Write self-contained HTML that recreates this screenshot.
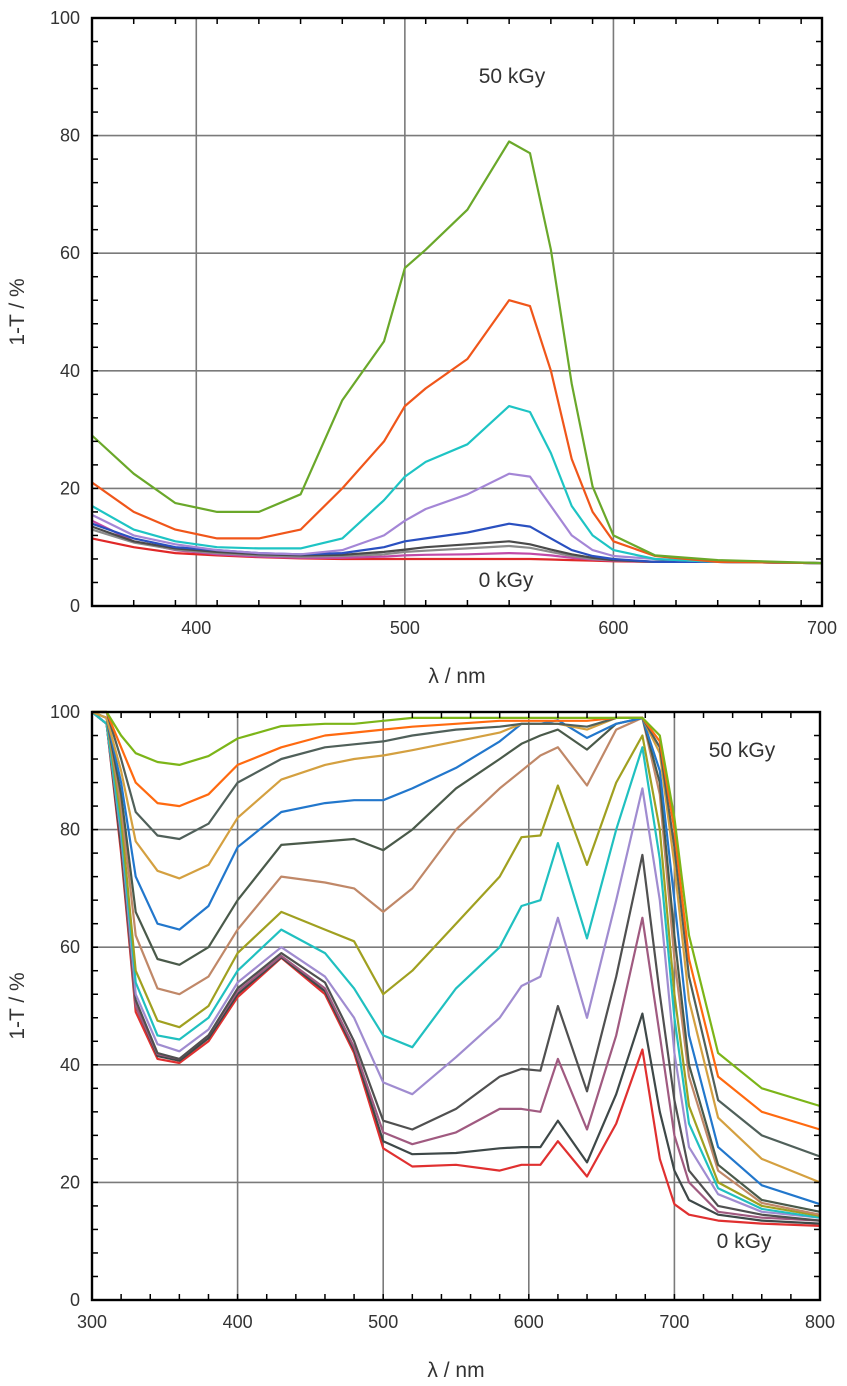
<!DOCTYPE html>
<html><head><meta charset="utf-8"><style>
html,body{margin:0;padding:0;background:#fff;}
svg{display:block;font-family:"Liberation Sans",sans-serif;}
</style></head><body>
<svg id="fig" width="847" height="1386" viewBox="0 0 847 1386" xmlns="http://www.w3.org/2000/svg"></svg>
<script>
// ---------- top chart data ----------
const topX = [350,370,390,410,430,450,470,490,500,510,530,550,560,570,580,590,600,620,650,700];
const topGreen = [29,22.5,17.5,16,16,19,35,45,57.5,60.6,67.4,79,77,60.6,37.8,20.3,12,8.6,7.8,7.3];
const topOrange = [21,16,13,11.5,11.5,13,20,28,34,37,42,52,51,40,25,16,11,8.5,7.5,7.3];
const topCyan = [17,13,11,10,9.8,9.8,11.5,18,22,24.5,27.5,34,33,26,17,12,9.5,8,7.5,7.3];
const topPurple = [15.5,12,10.5,9.5,9,8.8,9.5,12,14.5,16.5,19,22.5,22,17,12,9.5,8.5,8,7.5,7.3];
const topBlue = [14,11.5,10,9.5,9,8.8,9,10,11,11.5,12.5,14,13.5,11.5,9.5,8.5,8,7.5,7.5,7.3];
const topDark = [13.5,11,9.8,9.2,8.8,8.6,8.7,9.2,9.6,10,10.5,11,10.5,9.6,8.8,8.2,7.8,7.5,7.5,7.3];
const topGray = [13,10.8,9.6,9,8.6,8.4,8.5,8.8,9.2,9.4,9.8,10.2,9.9,9.2,8.5,8,7.8,7.5,7.5,7.3];
const topMagenta = [14.5,11,9.5,8.8,8.4,8.2,8.2,8.4,8.6,8.7,8.8,9,8.9,8.6,8.2,7.9,7.7,7.5,7.5,7.3];
const topRed = [11.5,10,9,8.6,8.3,8.1,8,8,8,8,8,8,8,7.9,7.8,7.7,7.6,7.5,7.5,7.3];
const topXTicks = [400,500,600,700];
const topYTicks = [0,20,40,60,80,100];

// ---------- bottom chart data ----------
const botX = [300,310,320,330,345,360,380,400,430,460,480,500,520,550,580,595,608,620,640,660,678,690,700,710,730,760,800];
const bS1 = [100,100,96,93,91.5,91,92.5,95.5,97.6,98,98,98.5,99,99,99,99,99,99,99,99,99,96,82,62,42,36,33];
const bS2 = [100,100,94,88,84.5,84,86,91,94,96,96.5,97,97.5,98,98.5,98.5,98.5,98.5,98.5,99,99,95,80,58,38,32,29];
const bS3 = [100,100,92,83,79,78.4,81,88,92,94,94.5,95,96,97,97.5,98,98,98,97.5,99,99,94,77,55,34,28,24.4];
const bS4 = [100,99,90,78,73,71.7,74,82,88.5,91,92,92.6,93.5,95,96.5,98,98,98,97,99,99,93,74,51,31,24,20];
const bS5 = [100,99,88,72,64,63,67,77,83,84.5,85,85,87,90.5,95,98,98,98.6,95.6,98,99,90,68,45,26,19.5,16.3];
const bS6 = [100,99,86,66,58,57,60,68,77.4,78,78.4,76.5,80,87,92,94.6,96,97,93.6,98,99,88,62,40,23,17,15];
const bS7 = [100,99,84,62,53,52,55,63,72,71,70,66,70,80,87,90,92.6,94,87.5,97,99,86,58,38,22,16.5,14.5];
const bS8 = [100,99,82,56,47.5,46.4,50,59,66,63,61,52,56,64,72,78.7,79,87.5,74,88,96,80,52,33,20,16,14.3];
const bS9 = [100,98,80,54,45,44.3,48,56,63,59,53,45,43,53,60,67,68,77.7,61.5,80,94,75,48,30,19,15.5,14];
const bS10 = [100,98,79,52,43.5,42.3,46,54,60,55,48,37,35,41.3,48,53.4,55,65,48,68,87,68,42,26,18,15,14];
const bS11 = [100,98,78,51,42,41,45,53,59,54,44,30.5,29,32.5,38,39.3,39,50,35.5,55,75.7,52,34,22,16,14.5,13.5];
const bS12 = [100,98,78,50,41.8,41,45,52.5,58.5,53,43,28.5,26.5,28.5,32.5,32.5,32,41,29,45,65,45,28,20,15,14,13.5];
const bS13 = [100,98,77,50,41.5,40.7,44.5,52,58.3,52.5,42.5,27,24.8,25,25.8,26,26,30.5,23.4,35,48.7,32,22,17,14.5,13.5,13];
const bS14 = [100,98,76,49,41,40.3,44,51.5,58.2,52,42,25.8,22.7,23,22,23,23,27,21,30,42.6,24,16.3,14.5,13.5,13,12.6];
const botXTicks = [300,400,500,600,700,800];
const botYTicks = [0,20,40,60,80,100];

const NS = "http://www.w3.org/2000/svg";
const svg = document.getElementById('fig');
function mk(tag, attrs, parent){
  const e = document.createElementNS(NS, tag);
  for (const k in attrs) e.setAttribute(k, attrs[k]);
  (parent||svg).appendChild(e);
  return e;
}

function drawChart(cfg){
  const g = mk('g', {});
  
  
  const sx = v => cfg.L + (v - cfg.x0) / (cfg.x1 - cfg.x0) * (cfg.R - cfg.L);
  const sy = v => cfg.B - (v - cfg.y0) / (cfg.y1 - cfg.y0) * (cfg.B - cfg.T);
  cfg.xTicks.forEach(t => {
    if (t === cfg.x0 || t === cfg.x1) return;
    const l = mk('line', {x1:sx(t), x2:sx(t), y1:cfg.T, y2:cfg.B, stroke:'#7a7a7a', 'stroke-width':1.6}, g);
    
    
  });
  cfg.yTicks.forEach(t => {
    if (t === cfg.y0 || t === cfg.y1) return;
    const l = mk('line', {x1:cfg.L, x2:cfg.R, y1:sy(t), y2:sy(t), stroke:'#7a7a7a', 'stroke-width':1.6}, g);
    
    
  });
  cfg.series.forEach(s => {
    const pts = cfg.xs.map((x,i) => sx(x).toFixed(1) + ',' + sy(s.v[i]).toFixed(1)).join(' ');
    const p = mk('polyline', {points:pts, fill:'none', stroke:s.c, 'stroke-width':2.2, 'stroke-linejoin':'round'}, g);
    
    
  });
  for (let v = cfg.x0; v <= cfg.x1 + 0.01; v += cfg.xMinor) {
    mk('line', {x1:sx(v), x2:sx(v), y1:cfg.B, y2:cfg.B-6, stroke:'#000', 'stroke-width':1.5}, g);
    mk('line', {x1:sx(v), x2:sx(v), y1:cfg.T, y2:cfg.T+6, stroke:'#000', 'stroke-width':1.5}, g);
  }
  for (let v = cfg.y0; v <= cfg.y1 + 0.01; v += 4) {
    mk('line', {x1:cfg.L, x2:cfg.L+6, y1:sy(v), y2:sy(v), stroke:'#000', 'stroke-width':1.5}, g);
    mk('line', {x1:cfg.R, x2:cfg.R-6, y1:sy(v), y2:sy(v), stroke:'#000', 'stroke-width':1.5}, g);
  }
  const fr = mk('rect', {x:cfg.L, y:cfg.T, width:cfg.R-cfg.L, height:cfg.B-cfg.T, fill:'none', stroke:'#000', 'stroke-width':2.4}, g);
  
  
  cfg.xTicks.forEach(t => {
    const tx = mk('text', {x:sx(t), y:cfg.B+28, 'font-size':18, fill:'#333', 'text-anchor':'middle'}, g);
    tx.textContent = t;
    
    
  });
  cfg.yTicks.forEach(t => {
    const tx = mk('text', {x:cfg.L-12, y:sy(t)+6, 'font-size':18, fill:'#333', 'text-anchor':'end'}, g);
    tx.textContent = t;
    
    
  });
  const xt = mk('text', {x:(cfg.L+cfg.R)/2, y:cfg.B+77, 'font-size':21, fill:'#333', 'text-anchor':'middle'}, g);
  xt.textContent = 'λ / nm';
  
  
  const yc = (cfg.T+cfg.B)/2;
  const yt = mk('text', {x:24, y:yc, 'font-size':21, fill:'#333', 'text-anchor':'middle', transform:'rotate(-90 24 '+yc+')'}, g);
  yt.textContent = '1-T / %';
  
  
  cfg.ann.forEach(a => {
    const t = mk('text', {x:a.x, y:a.y, 'font-size':21, fill:'#333', 'text-anchor':'middle'}, g);
    t.textContent = a.t;
    
    
  });
}

drawChart({
  name:'top-chart', L:92, R:822, T:18, B:606, x0:350, x1:700, y0:0, y1:100, xMinor:20,
  xs: topX, xTicks: topXTicks, yTicks: topYTicks,
  series:[
    {n:'series-red', c:'#e02828', v:topRed},
    {n:'series-magenta', c:'#c04aa8', v:topMagenta},
    {n:'series-gray', c:'#8a8a8a', v:topGray},
    {n:'series-darkgray', c:'#4a4a4a', v:topDark},
    {n:'series-blue', c:'#2a50c0', v:topBlue},
    {n:'series-purple', c:'#a486d6', v:topPurple},
    {n:'series-cyan', c:'#1ec4c4', v:topCyan},
    {n:'series-orange', c:'#f0561a', v:topOrange},
    {n:'series-green-50kgy', c:'#6aa82a', v:topGreen}
  ],
  ann:[{x:512, y:83, t:'50 kGy', n:'label-50kgy'},{x:506, y:587, t:'0 kGy', n:'label-0kgy'}]
});

drawChart({
  name:'bottom-chart', L:92, R:820, T:712, B:1300, x0:300, x1:800, y0:0, y1:100, xMinor:20,
  xs: botX, xTicks: botXTicks, yTicks: botYTicks,
  series:[
    {n:'series-14-red', c:'#e03030', v:bS14},
    {n:'series-13', c:'#3e4848', v:bS13},
    {n:'series-12', c:'#a05a80', v:bS12},
    {n:'series-11', c:'#505050', v:bS11},
    {n:'series-10', c:'#a08cd0', v:bS10},
    {n:'series-9', c:'#20c0c0', v:bS9},
    {n:'series-8', c:'#a0a020', v:bS8},
    {n:'series-7', c:'#c08868', v:bS7},
    {n:'series-6', c:'#4a5a4a', v:bS6},
    {n:'series-5', c:'#2277cc', v:bS5},
    {n:'series-4', c:'#d4a040', v:bS4},
    {n:'series-3', c:'#50605a', v:bS3},
    {n:'series-2', c:'#ff6a10', v:bS2},
    {n:'series-1-green', c:'#7cb518', v:bS1}
  ],
  ann:[{x:742, y:757, t:'50 kGy', n:'label-50kgy'},{x:744, y:1248, t:'0 kGy', n:'label-0kgy'}]
});
</script>
</body></html>
